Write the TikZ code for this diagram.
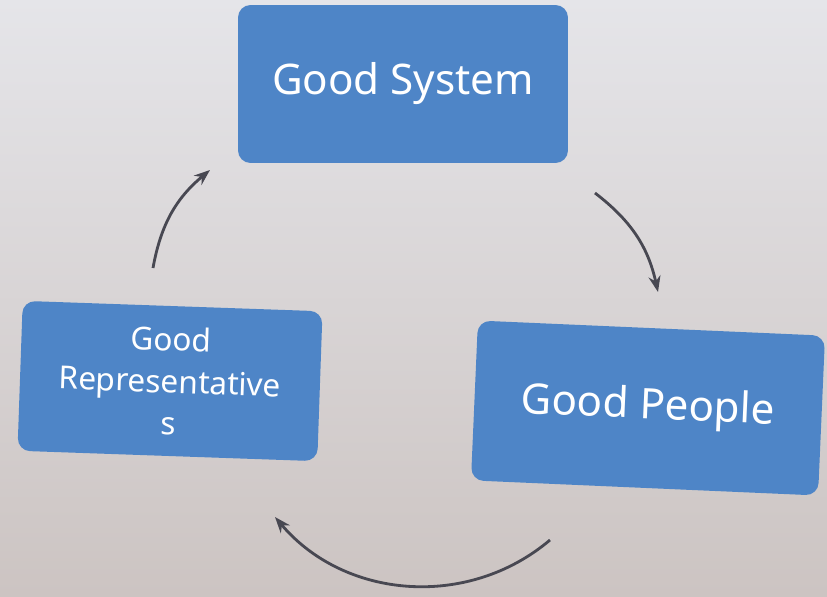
\documentclass[tikz,border=0pt]{standalone}
\usepackage{fontspec}
\setmainfont{Noto Sans}
\usetikzlibrary{arrows.meta}
\definecolor{boxblue}{RGB}{78,133,199}
\definecolor{arrowgray}{RGB}{72,72,82}
\definecolor{walltop}{RGB}{229,229,233}
\definecolor{wallbottom}{RGB}{204,196,194}
\begin{document}
\begin{tikzpicture}[x=0.02cm,y=-0.02cm,
  cyclebox/.style={fill=boxblue,rounded corners=0.25cm,text=white,align=center,inner sep=0pt},
  cyclearrow/.style={-{Stealth[length=0.32cm,width=0.24cm]},draw=arrowgray,line width=1.6pt}]
  \shade[top color=walltop,bottom color=wallbottom] (0,0) rectangle (827,596);
  \useasboundingbox (0,0) rectangle (827,596);
  % the three boxes
  \node[cyclebox,minimum width=6.6cm,minimum height=3.16cm,font=\fontsize{24}{28}\selectfont] (sys) at (403,84) {Good System};
  \node[cyclebox,rotate=-2.5,minimum width=6.95cm,minimum height=3.2cm,font=\fontsize{24}{28}\selectfont] (ppl) at (648,408) {Good People};
  \node[cyclebox,rotate=-2,minimum width=6.0cm,minimum height=3.0cm,font=\fontsize{18}{24}\selectfont] (rep) at (170,381) {Good\\Representative\\s};
  % arrow ends
  \coordinate (syspplS) at (595,193);
  \coordinate (syspplE) at (658,292);
  \coordinate (pplrepS) at (550,540);
  \coordinate (pplrepE) at (275,517);
  \coordinate (repsysS) at (153,268);
  \coordinate (repsysE) at (210,170);
  \draw[cyclearrow] (syspplS) to[bend left=20] (syspplE);
  \draw[cyclearrow] (pplrepS) to[bend left=45] (pplrepE);
  \draw[cyclearrow] (repsysS) to[bend left=20] (repsysE);
\end{tikzpicture}
\end{document}
